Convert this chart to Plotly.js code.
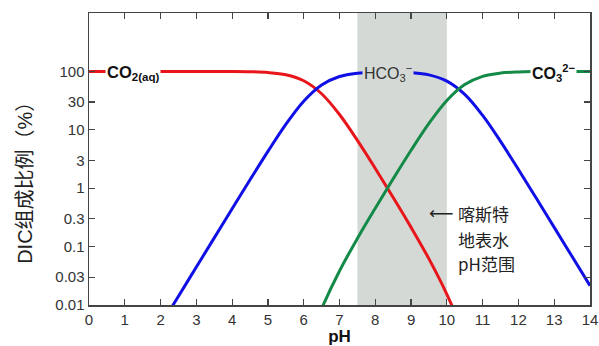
<!DOCTYPE html>
<html>
<head>
<meta charset="utf-8">
<script src="https://cdn.plot.ly/plotly-3.0.1.min.js"></script>
<style>html,body{margin:0;padding:0;background:#fff;}#chart{width:599px;height:346px;}</style>
</head>
<body>
<div id="chart"></div>
<script>
// pH values (x)
const pH = [0,0.5,1,1.5,2,2.5,3,3.5,4,4.5,5,5.5,6,6.5,7,7.5,8,8.5,9,9.5,10,10.5,11,11.5,12,12.5,13,13.5,14];
// DIC species shares (%)
const co2 = [100,100,100,100,99.996,99.986,99.955,99.86,99.56,98.6,95.7,87.6,69.1,41.45,18.29,6.60,2.18,0.693,0.2134,0.0616,0.01525,0.00286,0.000394,0.000045,0.0000047,0.00000048,0.000000048,0.0000000048,0.00000000048];
const hco3 = [0.0000447,0.000141,0.000447,0.00141,0.00447,0.01413,0.0447,0.1411,0.4447,1.393,4.275,12.38,30.87,58.55,81.67,93.26,97.36,97.86,95.33,87.06,68.12,40.34,17.61,6.333,2.093,0.6716,0.2134,0.0676,0.02138];
const co3 = [null,null,null,null,null,null,null,null,0.00000021,0.0000021,0.00002,0.00018,0.001445,0.00866,0.0382,0.1379,0.4553,1.447,4.459,12.88,31.86,59.66,82.37,93.66,97.89,99.33,99.80,99.93,99.98];
// y tick labels
const yTickVals = [0.01,0.03,0.1,0.3,1,3,10,30,100];
const yTickText = ['0.01','0.03','0.1','0.3','1','3','10','30','100'];
const xTickVals = [0,1,2,3,4,5,6,7,8,9,10,11,12,13,14];
// karst band
const bandX = [7.5, 10];
// note lines
const noteLines = ['喀斯特', '地表水', 'pH范围'];
const noteY = [0.374, 0.134, 0.052];

const latin = 'Liberation Sans, Arial, Noto Sans CJK SC, sans-serif';
const lineW = 3;
const traces = [
  {x: pH, y: co2, mode: 'lines', line: {color: '#e8161b', width: lineW, shape: 'spline'}, hoverinfo: 'skip'},
  {x: pH, y: hco3, mode: 'lines', line: {color: '#1010e6', width: lineW, shape: 'spline'}, hoverinfo: 'skip'},
  {x: pH, y: co3, mode: 'lines', line: {color: '#138a48', width: lineW, shape: 'spline'}, hoverinfo: 'skip'}
];

const annotations = [
  {x: 1.22, y: 2, xref: 'x', yref: 'y', text: '<b>CO<sub>2(aq)</sub></b>', showarrow: false,
   bgcolor: '#fff', borderpad: 1, font: {size: 16.5, color: '#111', family: latin}, yshift: -2},
  {x: 8.35, y: 2, xref: 'x', yref: 'y', text: 'HCO<sub>3</sub><sup>−</sup>', showarrow: false,
   bgcolor: '#d5d9d5', borderpad: 1, font: {size: 16, color: '#333', family: latin}, yshift: -2},
  {x: 12.98, y: 2, xref: 'x', yref: 'y', text: '<b>CO<sub>3</sub><sup>2−</sup></b>', showarrow: false,
   bgcolor: '#fff', borderpad: 1, font: {size: 16, color: '#111', family: latin}, yshift: -2},
  {x: 9.85, y: Math.log10(noteY[0]), xref: 'x', yref: 'y', text: '⟵', showarrow: false,
   font: {size: 17, color: '#222', family: 'DejaVu Sans'}},
  {x: -0.128, y: 0.435, xref: 'paper', yref: 'paper', xanchor: 'center', yanchor: 'middle',
   text: 'DIC组成比例（%）', textangle: -90, showarrow: false,
   font: {size: 20, color: '#222', family: latin}}
];
noteLines.forEach((t, i) => annotations.push({
  x: 10.25, y: Math.log10(noteY[i]), xref: 'x', yref: 'y', xanchor: 'left', text: t, showarrow: false,
  font: {size: 17, color: '#222', family: 'Noto Sans CJK SC, sans-serif'}
}));

const layout = {
  width: 599, height: 346,
  margin: {l: 89, r: 9, t: 13, b: 41},
  paper_bgcolor: '#fff', plot_bgcolor: '#fff',
  showlegend: false,
  font: {family: latin, color: '#333', size: 15},
  xaxis: {
    range: [0, 14], tickvals: xTickVals, ticks: 'inside', ticklen: 6, tickwidth: 1.2, tickcolor: '#444',
    showline: true, linecolor: '#444', linewidth: 1.5, mirror: 'ticks', showgrid: false, zeroline: false,
    tickfont: {size: 15, color: '#333', family: latin},
    title: {text: '<b>pH</b>', font: {size: 17, color: '#111', family: latin}, standoff: 3}
  },
  yaxis: {
    type: 'log', range: [-2, 3], tickvals: yTickVals, ticktext: yTickText,
    ticks: 'inside', ticklen: 6, tickwidth: 1.2, tickcolor: '#444',
    showline: true, linecolor: '#444', linewidth: 1.5, mirror: 'ticks', showgrid: false, zeroline: false,
    tickfont: {size: 15, color: '#333', family: latin}
  },
  shapes: [
    {type: 'rect', xref: 'x', yref: 'paper', x0: bandX[0], x1: bandX[1], y0: 0, y1: 1,
     fillcolor: '#d5d9d5', line: {width: 0}, layer: 'below'}
  ],
  annotations: annotations
};

Plotly.newPlot('chart', traces, layout, {staticPlot: true, displayModeBar: false});
</script>
</body>
</html>
